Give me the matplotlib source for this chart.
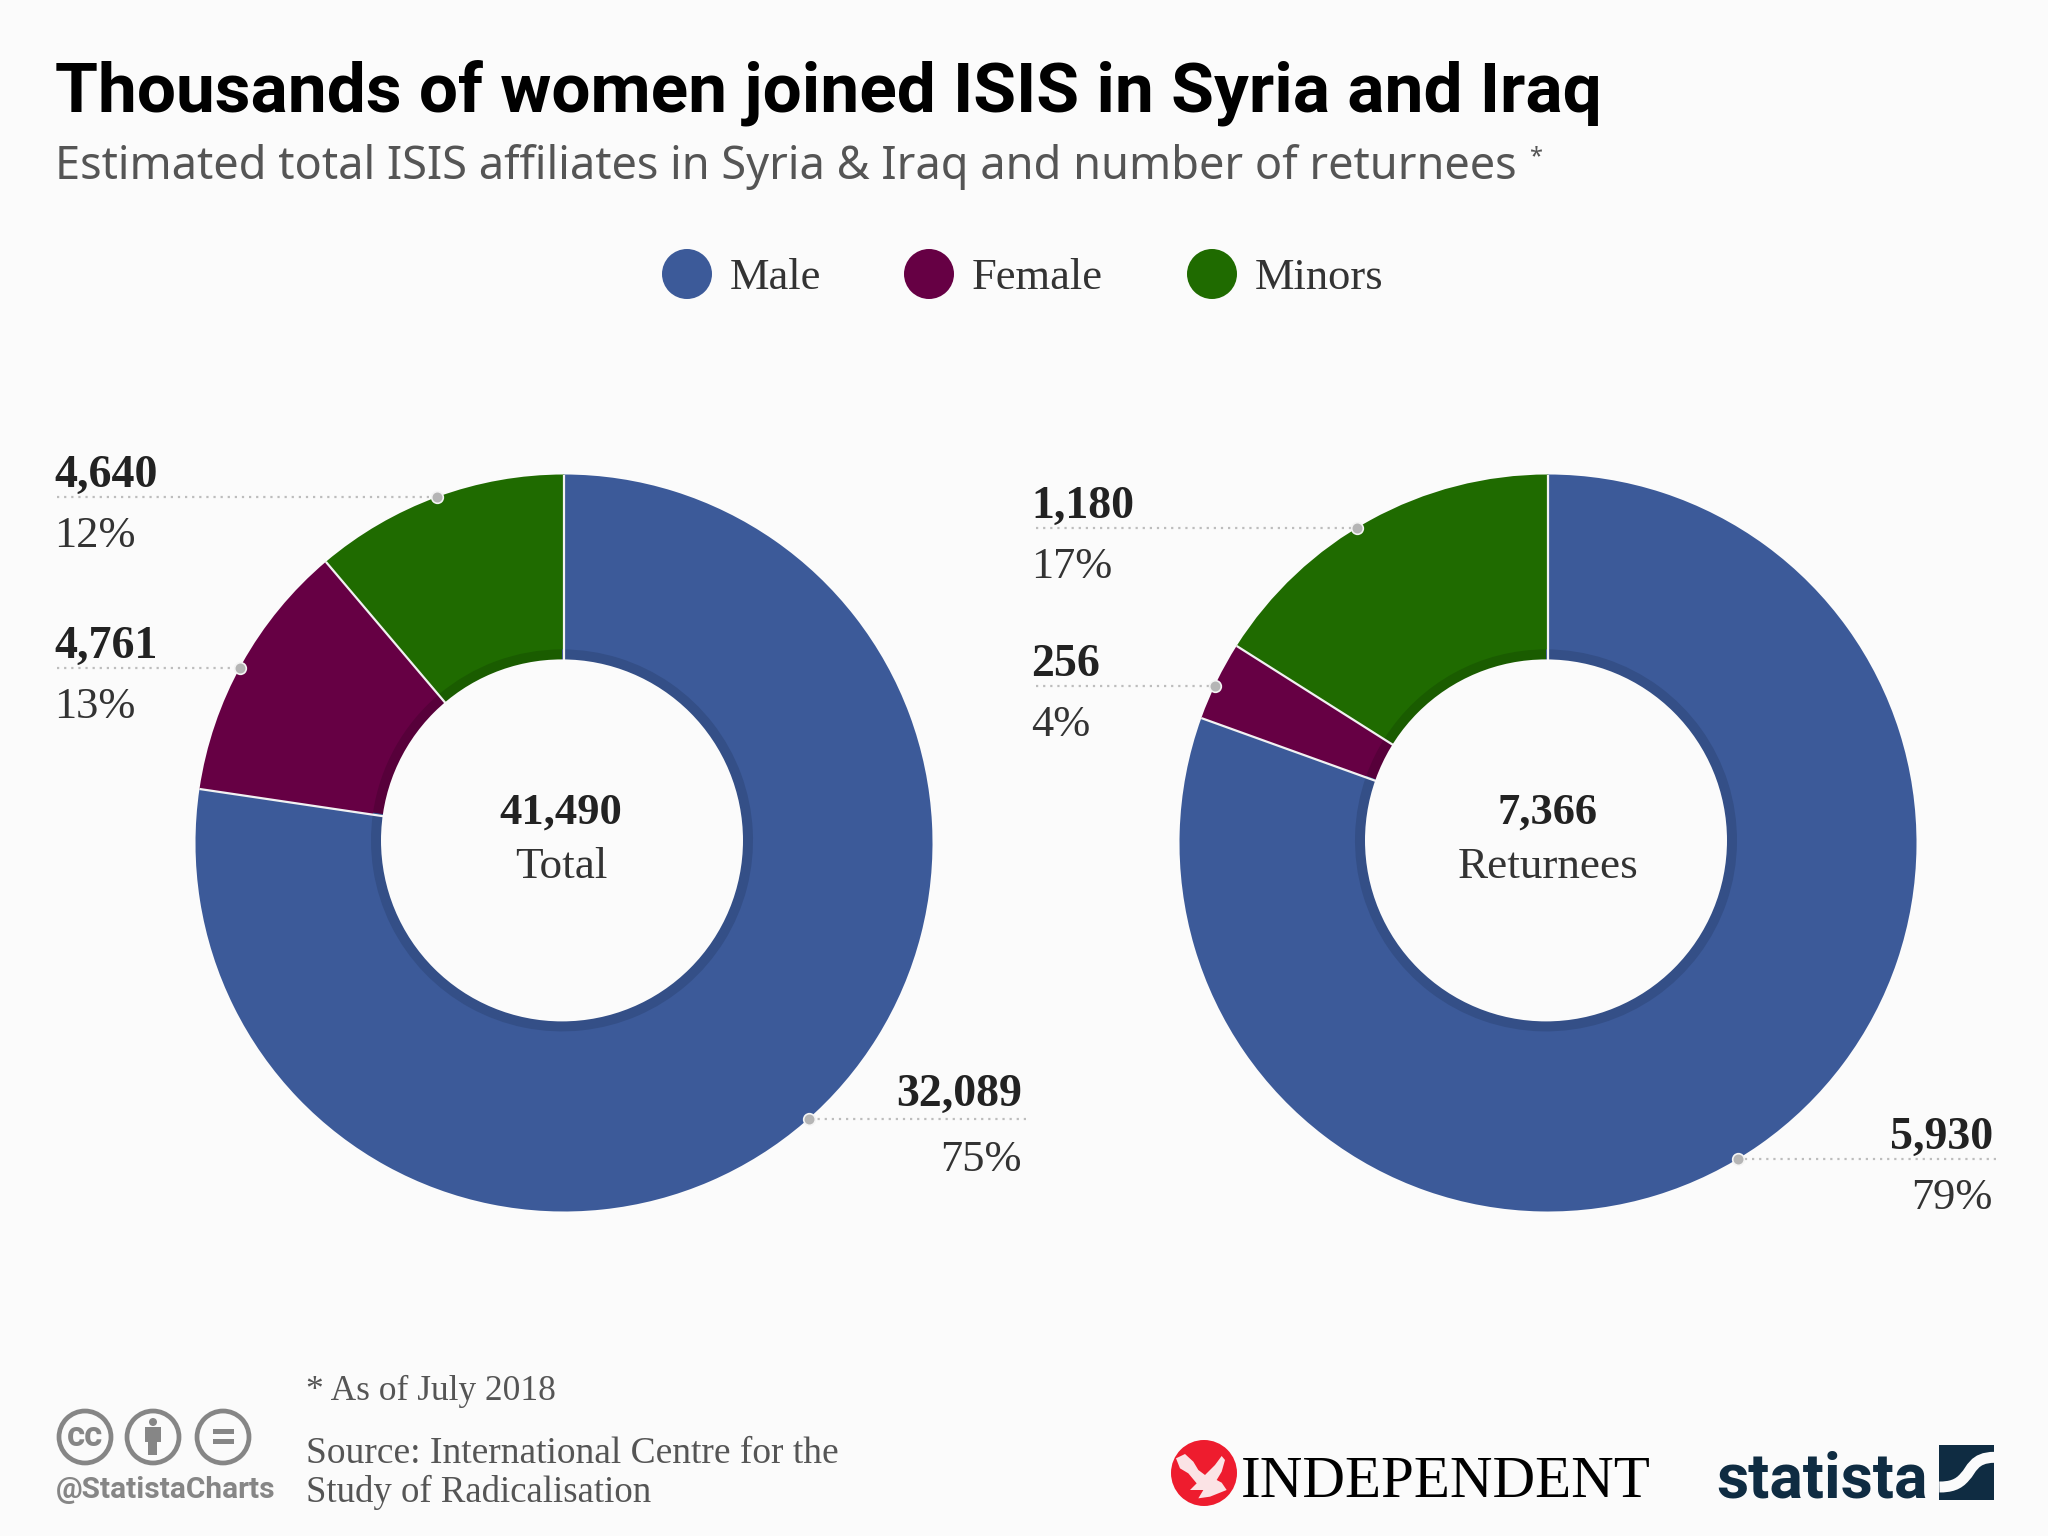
"""
Thousands of women joined ISIS - two donuts with leader labels, Statista layout.
Output: out.png
"""
import numpy as np
import matplotlib
matplotlib.use('Agg')
import matplotlib.pyplot as plt
from matplotlib.patches import Circle, Ellipse, Rectangle, PathPatch, Polygon
from matplotlib.path import Path

# data
categories = ['Male', 'Female', 'Minors']
total_values = [32089, 4761, 4640]
total_labels = ['32,089', '4,761', '4,640']
total_shares = ['75%', '13%', '12%']
returnee_values = [5930, 256, 1180]
returnee_labels = ['5,930', '256', '1,180']
returnee_shares = ['79%', '4%', '17%']

W, H = 2048, 1536
BG = '#fbfbfb'
COLORS = ['#3c5a99', '#660044', '#1f6b00']
DARK = ['#344f87', '#57003a', '#1a5c00']
SERIF = 'Liberation Serif'
HEAD = 'Roboto'
R = 368.5

fig = plt.figure(figsize=(W / 100, H / 100), dpi=100, facecolor=BG)


def donut(values, cx, cy, r=R, r_in=181, r_band=191):
    ax = fig.add_axes([(cx - r) / W, 1 - (cy + r) / H, 2 * r / W, 2 * r / H])
    # the hole sits a touch up and left of the ring centre
    off = (-2 / r, 2.6 / r)
    ax.pie(values, colors=COLORS, startangle=90, counterclock=False, radius=1,
           wedgeprops=dict(linewidth=0))
    ax.pie(values, colors=DARK, startangle=90, counterclock=False, radius=r_band / r, center=off,
           wedgeprops=dict(linewidth=0))
    # white separators between the slices
    for a in np.r_[0, np.cumsum(values)[:-1]] / sum(values) * 2 * np.pi:
        ax.plot([0.4 * np.sin(a), np.sin(a)], [0.4 * np.cos(a), np.cos(a)],
                color='#f2f2f2', lw=1.6, solid_capstyle='butt', zorder=2)
    ax.add_patch(Circle(off, r_in / r, color=BG, lw=0, zorder=3))
    ax.set_xlim(-1, 1)
    ax.set_ylim(-1, 1)


donut(total_values, 564, 843)
donut(returnee_values, 1548, 843)

# overlay in pixel coordinates for text, leaders and logos
ov = fig.add_axes([0, 0, 1, 1], facecolor='none')
ov.set_xlim(0, W)
ov.set_ylim(H, 0)
ov.axis('off')


def txt(x, y, s, size, color='#222222', weight='normal', family=SERIF, ha='left', **kw):
    return ov.text(x, y, s, fontsize=size, color=color, fontweight=weight, family=family,
                   ha=ha, va='baseline', **kw)


# title block
txt(55, 112, 'Thousands of women joined ISIS in Syria and Iraq', 50, color='#000000',
    weight='bold', family=HEAD)
txt(55, 179, 'Estimated total ISIS affiliates in Syria & Iraq and number of returnees', 32.5,
    color='#555555', family='Noto Sans')
txt(1529, 163, '*', 17, color='#555555', family='Noto Sans')

# legend
for cat, col, cx, tx in zip(categories, COLORS, [687, 929, 1212], [730, 972, 1255]):
    ov.add_patch(Circle((cx, 274), 25, color=col, lw=0))
    txt(tx, 289, cat, 32, color='#333333')


def leader(cx, cy, angle, x_end):
    # angle in degrees clockwise from the top of the donut
    a = np.deg2rad(angle)
    dx, dy = cx + R * np.sin(a), cy - R * np.cos(a)
    ov.plot([x_end, dx], [dy, dy], color='#bdbdbd', lw=1.6,
            linestyle=(0, (1, 2.2)), zorder=2)
    ov.scatter([dx], [dy], s=70, color='#b5b5b5', edgecolors='#f4f4f4', linewidths=1.2,
               zorder=3)
    return dy


def label(x, y, value, share, ha='left', gap=0):
    txt(x, y - 10 - gap, value, 33, weight='bold', ha=ha)
    txt(x, y + 50 + gap, share, 32, color='#333333', ha=ha)


# left donut
y = leader(564, 843, 339.9, 57)
label(54, y, total_labels[2], total_shares[2])
y = leader(564, 843, 298.3, 57)
label(54, y, total_labels[1], total_shares[1])
y = leader(564, 843, 138.4, 1026)
label(1022, y, total_labels[0], total_shares[0], ha='right', gap=2.5)
txt(561, 824, '41,490', 32, weight='bold', ha='center')
txt(561, 878, 'Total', 32.5, color='#333333', ha='center')

# right donut
y = leader(1548, 843, 328.8, 1036)
label(1031, y, returnee_labels[2], returnee_shares[2])
y = leader(1548, 843, 295.2, 1036)
label(1031, y, returnee_labels[1], returnee_shares[1])
y = leader(1548, 843, 149, 1996)
label(1993, y, returnee_labels[0], returnee_shares[0], ha='right')
txt(1548, 824, '7,366', 32, weight='bold', ha='center')
txt(1548, 878, 'Returnees', 32.5, color='#333333', ha='center')

# footer
txt(306, 1400, '* As of July 2018', 25.5, color='#555555')
txt(306, 1463, 'Source: International Centre for the', 27, color='#555555')
txt(306, 1502, 'Study of Radicalisation', 26.5, color='#555555')

# cc icons
GREY = '#868686'
for cx in [85, 153, 223]:
    ov.add_patch(Circle((cx, 1437), 26, fc='none', ec=GREY, lw=3.4))
txt(85, 1446, 'cc', 25, color=GREY, weight='bold', family='Roboto', ha='center')
ov.add_patch(Circle((153, 1422), 4, color=GREY, lw=0))
ov.add_patch(Rectangle((145, 1427), 16, 15, color=GREY, lw=0))
ov.add_patch(Rectangle((148, 1440), 9, 15, color=GREY, lw=0))
ov.add_patch(Rectangle((213, 1429), 21, 5, color=GREY, lw=0))
ov.add_patch(Rectangle((213, 1439), 21, 5, color=GREY, lw=0))
txt(56, 1498, '@StatistaCharts', 21.5, color=GREY, weight='bold', family='Roboto')

# independent logo
ov.add_patch(Ellipse((1204, 1473), 66, 66, color='#ee1c2e', lw=0))
eagle = [(48, 85), (75, 72), (100, 95), (115, 120), (135, 135), (165, 105), (185, 78), (195, 90),
         (185, 125), (170, 150), (185, 158), (200, 180), (150, 200), (115, 205), (130, 180),
         (90, 180), (110, 160), (85, 130), (60, 115)]
ov.add_patch(Polygon([(1160 + ex / 3, 1430 + ey / 3) for ex, ey in eagle], color='#fbe3e5', lw=0))
txt(1241, 1497, 'INDEPENDENT', 42.5, color='#000000')

# statista logo
NAVY = '#0f2c42'
txt(1716, 1498, 'statista', 45, color=NAVY, weight='bold', family='Roboto')
ov.add_patch(Rectangle((1939, 1445), 55, 55, color=NAVY, lw=0))
s_pts = [(193, 67), (130, 67), (125, 105), (105, 125), (85, 150), (60, 156), (28, 156)]
s_curve = Path([(1930 + sx / 3, 1435 + sy / 3) for sx, sy in s_pts],
               [Path.MOVETO] + [Path.CURVE4] * 6)
ov.add_patch(PathPatch(s_curve, fc='none', ec=BG, lw=7.9, capstyle='butt'))

fig.savefig('out.png', dpi=100, facecolor=BG)
